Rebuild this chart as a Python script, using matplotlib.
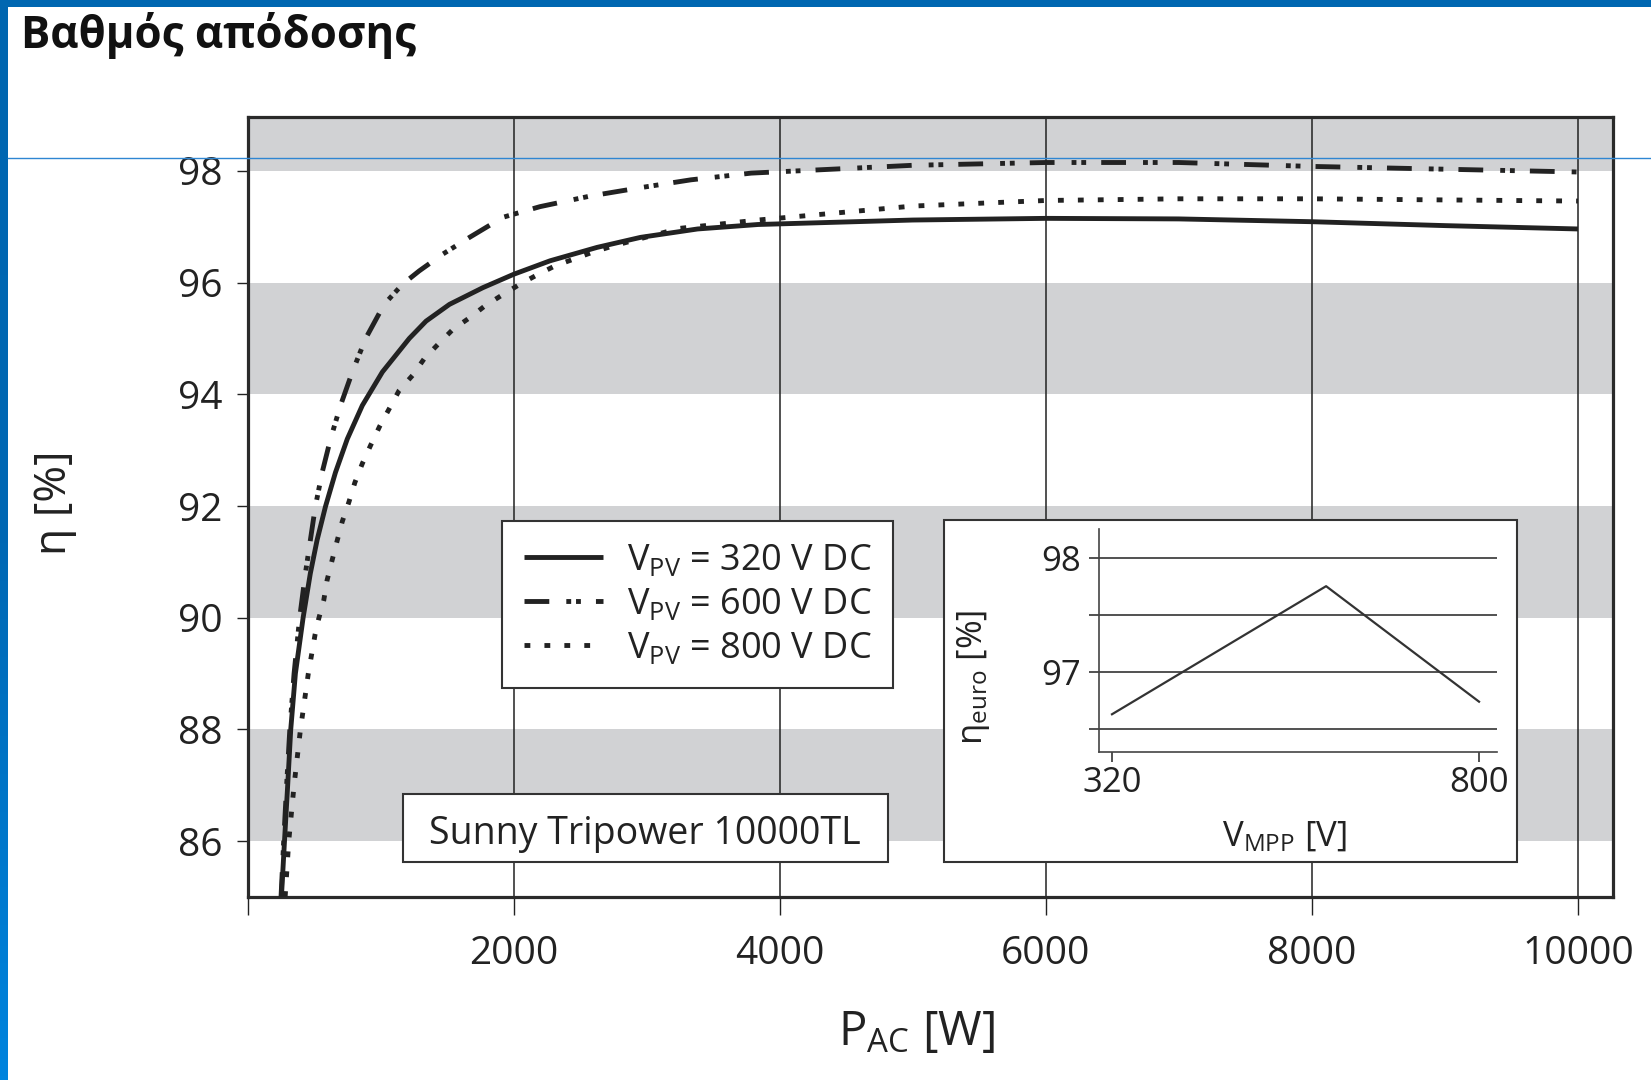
import numpy as np
import matplotlib
matplotlib.use("Agg")
import matplotlib.pyplot as plt
from matplotlib.patches import Rectangle
from matplotlib.lines import Line2D

plt.rcParams['font.family'] = ['Open Sans', 'DejaVu Sans']
plt.rcParams['mathtext.fontset'] = 'custom'
plt.rcParams['mathtext.rm'] = 'Open Sans'
plt.rcParams['mathtext.it'] = 'Open Sans:italic'
plt.rcParams['mathtext.bf'] = 'Open Sans:bold'

# efficiency curves
pac_320 = [255, 278, 302, 325, 360, 418, 472, 523, 586, 661, 750, 863, 1014, 1216, 1342, 1518, 1770, 2002,
           2274, 2627, 2955, 3383, 3837, 5000, 6000, 7000, 8000, 9000, 10000]
eta_320 = [85.0, 86.0, 87.0, 88.0, 89.0, 90.0, 90.79, 91.39, 91.99, 92.6, 93.2, 93.8, 94.4, 95.0, 95.31, 95.61, 95.91, 96.15,
           96.39, 96.63, 96.81, 96.96, 97.04, 97.12, 97.15, 97.14, 97.09, 97.02, 96.96]

pac_600 = [252, 272, 294, 318, 350, 392, 435, 510, 561, 624, 699, 788, 888, 1027, 1165, 1291, 1468, 1669, 1921,
           2199, 2577, 2955, 3333, 3786, 5000, 6000, 7000, 8000, 9000, 10000]
eta_600 = [85.0, 86.0, 87.0, 88.0, 89.0, 90.0, 90.79, 91.99, 92.6, 93.2, 93.8, 94.4, 95.0, 95.61, 95.97, 96.21, 96.51, 96.81, 97.17,
           97.36, 97.55, 97.7, 97.84, 97.96, 98.1, 98.15, 98.15, 98.08, 98.03, 97.98]

pac_800 = [283, 310, 350, 398, 457, 508, 535, 573, 598, 636, 674, 712, 762, 807, 863, 926, 994, 1065, 1140, 1241,
           1329, 1430, 1543, 1669, 1783, 1909, 2047, 2186, 2312, 2451, 2589, 2753, 3245, 3837, 5000, 6000, 7000,
           8000, 9000, 10000]
eta_800 = [85.0, 86.0, 87.0, 88.0, 89.0, 89.7, 89.98, 90.31, 90.67, 91.03, 91.38, 91.72, 92.07, 92.42, 92.76, 93.09, 93.43, 93.74, 94.07, 94.34,
           94.64, 94.89, 95.16, 95.37, 95.58, 95.77, 95.97, 96.15, 96.3, 96.42, 96.54, 96.66, 96.97, 97.12, 97.37, 97.47, 97.5,
           97.5, 97.48, 97.46]

labels = [r"V$_{\mathregular{PV}}$ = 320 V DC",
          r"V$_{\mathregular{PV}}$ = 600 V DC",
          r"V$_{\mathregular{PV}}$ = 800 V DC"]

x_ticks = [0, 2000, 4000, 6000, 8000, 10000]
x_ticklabels = ["", "2000", "4000", "6000", "8000", "10000"]
y_ticks = [86, 88, 90, 92, 94, 96, 98]
band_lows = [86, 90, 94, 98]

# inset: european efficiency vs MPP voltage
vmpp = [320, 600, 800]
eta_euro = [96.63, 97.75, 96.74]

W, H = 1651, 1080
fig = plt.figure(figsize=(W / 100, H / 100), dpi=100)

ink = "#222222"

ax = fig.add_axes([247.5 / W, 1 - 897 / H, (1612.7 - 247.5) / W, (897 - 116.7) / H])
ax.set_xlim(0, 10261)
ax.set_ylim(85, 98.97)

for lo in band_lows:
    ax.axhspan(lo, lo + 2, color="#d1d2d4", lw=0, zorder=1)

lw = 3.5
ax.plot(pac_320, eta_320, color=ink, lw=lw, solid_capstyle="butt", solid_joinstyle="round", label=labels[0], zorder=3)
ax.plot(pac_600, eta_600, color=ink, lw=lw, dashes=(5.1, 3.5, 1.0, 1.0, 1.0, 3.1), label=labels[1], zorder=3)
ax.plot(pac_800, eta_800, color=ink, lw=lw, dashes=(1.2, 2.9), label=labels[2], zorder=3)

ax.set_xticks(x_ticks, x_ticklabels)
ax.set_yticks(y_ticks)
ax.grid(axis="x", color=ink, lw=1.1)
ax.tick_params(axis="x", length=13, width=1, pad=14, labelsize=28, colors=ink)
ax.tick_params(axis="y", length=8, width=1, pad=10, labelsize=28, colors=ink)
for s in ax.spines.values():
    s.set_linewidth(2.3)
    s.set_color("#2a2a2a")

ax.set_ylabel("η [%]", fontsize=32, color=ink)
ax.yaxis.label.set_va("center")
ax.yaxis.set_label_coords(-0.141, 0.505)
ax.set_xlabel(r"P$_{\mathregular{AC}}$ [W]", fontsize=34, color=ink)
ax.xaxis.label.set_va("center")
ax.xaxis.set_label_coords(0.4897, -0.173)

leg = ax.legend(loc="upper left", bbox_to_anchor=(0.1863, 0.4819), fontsize=26,
                frameon=True, fancybox=False, edgecolor="#333333", framealpha=1,
                handlelength=2.2, handletextpad=0.66, borderpad=0.6,
                labelspacing=0.22, borderaxespad=0)
leg.get_frame().set_linewidth(1.5)
for t in leg.get_texts():
    t.set_color(ink)

# model name box
ax.add_patch(Rectangle((0.1139, 0.0449), 0.4692 - 0.1139, 0.132 - 0.0449, transform=ax.transAxes,
                       facecolor="white", edgecolor="#333333", lw=1.5, zorder=5))
ax.text(0.2912, 0.081, "Sunny Tripower 10000TL", transform=ax.transAxes, ha="center", va="center",
        fontsize=27, color=ink, zorder=6)

# inset frame
fig.add_artist(Rectangle((944 / W, 1 - 862 / H), (1517 - 944) / W, (862 - 520) / H,
                         transform=fig.transFigure, facecolor="white", edgecolor="#333333", lw=1.5, zorder=2))

ins = fig.add_axes([1099 / W, 1 - 752 / H, (1497 - 1099) / W, (752 - 529) / H])
ins.set_zorder(3)
ins.patch.set_alpha(0)
ins.set_xlim(303, 823.5)
ins.set_ylim(96.3, 98.25)
ins.plot(vmpp, eta_euro, color="#333333", lw=1.6)
ins.set_yticks([96.5, 97, 97.5, 98], ["", "97", "", "98"])
ins.set_xticks(vmpp[::2])
ins.grid(axis="y", color="#333333", lw=1.2)
ins.tick_params(axis="both", length=7, width=1.2, colors="#333333", labelsize=25, labelcolor=ink)
ins.tick_params(axis="x", pad=3)
ins.tick_params(axis="y", pad=6)
for side in ["top", "right"]:
    ins.spines[side].set_visible(False)
for side in ["left", "bottom"]:
    ins.spines[side].set_color("#444444")
    ins.spines[side].set_linewidth(1.2)
ins.set_xlabel(r"V$_{\mathregular{MPP}}$ [V]", fontsize=25, color=ink)
ins.xaxis.label.set_va("center")
ins.xaxis.set_label_coords((1284 - 1099) / (1497 - 1099), -(837 - 752) / (752 - 529))
ins.set_ylabel(r"η$_{\mathregular{euro}}$ [%]", fontsize=25, color=ink)
ins.yaxis.label.set_va("center")
ins.yaxis.set_label_coords(-(1099 - 973) / (1497 - 1099), (752 - 677) / (752 - 529))

# title
fig.text(21 / W, 1 - 48 / H, "Βαθμός απόδοσης", fontsize=31.5, fontweight="bold", color="#111111", va="baseline")

# page frame: blue bars on top and left, plus the thin blue guide line
fig.add_artist(Rectangle((0, 1 - 7 / H), 1, 7 / H, transform=fig.transFigure, color="#0067b1", lw=0, zorder=10))
bar = fig.add_axes([0, 0, 7.5 / W, 1 - 7 / H])
bar.imshow(np.linspace(0, 1, 256).reshape(-1, 1), aspect="auto",
           cmap=matplotlib.colors.LinearSegmentedColormap.from_list("b", ["#0066b0", "#0068b4", "#0084de"]))
bar.axis("off")
fig.add_artist(Line2D([7.5 / W, 1], [1 - 158 / H] * 2, transform=fig.transFigure, color="#2f86d2", lw=1, zorder=10))

fig.savefig("out.png", dpi=100)
